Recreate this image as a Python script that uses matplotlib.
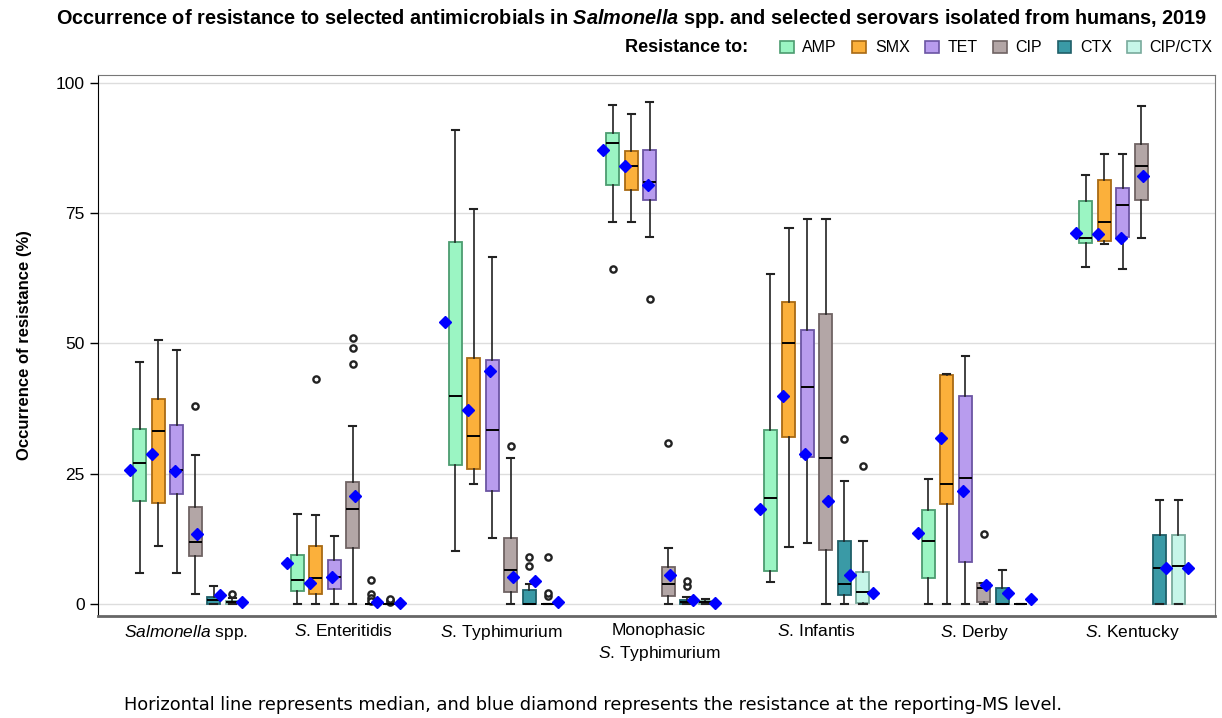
import numpy as np
import matplotlib
matplotlib.use('Agg')
import matplotlib.pyplot as plt
from matplotlib.patches import Patch

plt.rcParams['font.family'] = ['Liberation Sans', 'DejaVu Sans']
plt.rcParams['mathtext.fontset'] = 'custom'
plt.rcParams['mathtext.rm'] = 'Liberation Sans'
plt.rcParams['mathtext.it'] = 'Liberation Sans:italic'
plt.rcParams['mathtext.bf'] = 'Liberation Sans:bold'
plt.rcParams['mathtext.bfit'] = 'Liberation Sans:italic:bold'

groups = [r'$\mathit{Salmonella}$ spp.', r'$\mathit{S}$. Enteritidis', r'$\mathit{S}$. Typhimurium',
          'Monophasic\n' + r'$\mathit{S}$. Typhimurium', r'$\mathit{S}$. Infantis',
          r'$\mathit{S}$. Derby', r'$\mathit{S}$. Kentucky']
drugs = ['AMP', 'SMX', 'TET', 'CIP', 'CTX', 'CIP/CTX']

# (whisker low, q1, median, q3, whisker high) per serovar group
amp = [(6.0, 19.7, 27.1, 33.5, 46.5), (0, 2.5, 4.6, 9.4, 17.3), (10.2, 26.6, 40.0, 69.4, 91.0),
       (73.3, 80.4, 88.4, 90.3, 95.7), (4.3, 6.4, 20.3, 33.3, 63.3), (0, 5.0, 12.0, 18.0, 23.9),
       (64.7, 69.2, 70.3, 77.3, 82.4)]
smx = [(11.2, 19.4, 33.1, 39.4, 50.6), (0, 1.9, 5.0, 11.2, 17.1), (23.0, 25.9, 32.3, 47.2, 75.8),
       (73.3, 79.4, 84.1, 86.9, 94.0), (11.0, 32.1, 50.1, 57.9, 72.2), (0, 19.1, 23.1, 43.9, 44.2),
       (69.0, 69.6, 73.2, 81.4, 86.4)]
tet = [(6.0, 21.2, 25.8, 34.4, 48.7), (0, 2.9, 5.2, 8.5, 13.1), (12.7, 21.6, 33.4, 46.8, 66.6),
       (70.5, 77.5, 81.0, 87.1, 96.4), (11.7, 28.2, 41.7, 52.6, 73.8), (0, 8.1, 24.2, 39.9, 47.5),
       (64.2, 70.5, 76.5, 79.9, 86.4)]
cip = [(1.9, 9.2, 11.9, 18.7, 28.6), (0, 10.8, 18.2, 23.4, 34.2), (0, 2.4, 6.5, 12.6, 28.0),
       (0, 1.6, 3.9, 7.1, 10.7), (0, 10.3, 28.1, 55.6, 73.8), (0, 0.3, 3.0, 4.0, 4.0),
       (70.3, 77.6, 84.1, 88.2, 95.5)]
ctx = [(0, 0, 0.7, 1.4, 3.5), (0, 0, 0, 0, 0), (0, 0, 0, 2.6, 3.8), (0, 0, 0.3, 0.8, 1.3),
       (0, 1.7, 3.8, 12.0, 23.6), (0, 0, 0, 3.1, 6.6), (0, 0, 6.9, 13.2, 20.0)]
cipctx = [(0, 0, 0.3, 0.6, 1.2), (0, 0, 0, 0, 0), (0, 0, 0, 0, 0), (0, 0, 0.3, 0.6, 1.0),
          (0, 0.1, 2.3, 6.1, 12.1), (0, 0, 0, 0, 0), (0, 0, 7.2, 13.2, 20.0)]

# resistance at reporting-MS level (blue diamonds)
amp_ms = [25.8, 7.9, 54.2, 87.1, 18.3, 13.7, 71.1]
smx_ms = [28.8, 4.0, 37.2, 84.0, 39.9, 31.8, 71.0]
tet_ms = [25.6, 5.2, 44.7, 80.4, 28.7, 21.7, 70.3]
cip_ms = [13.4, 20.8, 5.1, 5.5, 19.8, 3.7, 82.1]
ctx_ms = [1.8, 0.3, 4.4, 0.8, 5.6, 2.2, 6.9]
cipctx_ms = [0.3, 0.1, 0.3, 0.2, 2.1, 1.0, 6.9]

# outliers
amp_out = [[], [], [], [64.3], [], [], []]
smx_out = [[], [43.2], [], [], [], [], []]
tet_out = [[], [], [], [58.6], [], [], []]
cip_out = [[37.9], [46.1, 49.2, 51.0], [30.3], [30.9], [], [13.4], []]
ctx_out = [[], [4.6, 1.9, 1.1, 0.6], [7.2, 9.1], [3.5, 4.4], [31.7], [], []]
cipctx_out = [[2.0], [0.4, 0.7, 0.9], [1.6, 2.2, 9.1], [], [26.4], [], []]

fills = ['#9BF5C3', '#FBB03B', '#B89CEE', '#B3A6A6', '#3A9AA6', '#C6F6E9']
edges = ['#4C9C70', '#A86A14', '#6B55A3', '#6F6363', '#1F5F68', '#78AA9C']

box_stats = [amp, smx, tet, cip, ctx, cipctx]
ms_vals = [amp_ms, smx_ms, tet_ms, cip_ms, ctx_ms, cipctx_ms]
outliers = [amp_out, smx_out, tet_out, cip_out, ctx_out, cipctx_out]

fig = plt.figure(figsize=(12.22, 7.18), dpi=100)
ax = fig.add_axes([98/1222, 1-616/718, (1215-98)/1222, (616-75)/718])

x = np.arange(len(groups))
step = 0.1173
bw = 0.0824
dstep = 0.1427

for k, d in enumerate(drugs):
    off = (k - 2.5) * step
    stats = []
    for g in range(len(groups)):
        lo, q1, med, q3, hi = box_stats[k][g]
        stats.append(dict(whislo=lo, q1=q1, med=med, q3=q3, whishi=hi,
                          fliers=outliers[k][g], mean=ms_vals[k][g]))
    ax.bxp(stats, positions=x + off, widths=bw, capwidths=bw * 0.55,
           patch_artist=True, showfliers=True, showmeans=False,
           boxprops=dict(facecolor=fills[k], edgecolor=edges[k], linewidth=1.3),
           medianprops=dict(color='black', linewidth=1.4),
           whiskerprops=dict(color='#222222', linewidth=1.2),
           capprops=dict(color='#222222', linewidth=1.5),
           flierprops=dict(marker='o', markerfacecolor='white', markeredgecolor='#222222',
                           markersize=4.5, markeredgewidth=1.7))
    ax.plot(x + (k - 2.5) * dstep, ms_vals[k], linestyle='none', marker='D',
            color='#0000FF', markersize=6.5, zorder=5)

ax.set_xlim(-0.558, 6.526)
ax.set_ylim(-2.3, 101.5)
ax.set_yticks([0, 25, 50, 75, 100])
ax.set_xticks(x)
ax.set_xticklabels(groups, fontsize=12.5, linespacing=1.45)
ax.tick_params(axis='x', length=0, pad=5)
ax.tick_params(axis='y', labelsize=12.5, length=6, width=1, colors='black')
ax.yaxis.grid(True, color='#DDDDDD', linewidth=1)
ax.set_axisbelow(True)
for s in ['top', 'right']:
    ax.spines[s].set_color('#777777')
ax.spines['bottom'].set_color('#666666')
ax.spines['bottom'].set_linewidth(2)
ax.spines['left'].set_color('black')
ax.set_ylabel('Occurrence of resistance (%)', fontsize=12, fontweight='bold', labelpad=17)

fig.text(632/1222, 1-18/718,
         r'Occurrence of resistance to selected antimicrobials in $\mathbfit{Salmonella}$ spp. and selected serovars isolated from humans, 2019',
         ha='center', va='center', fontsize=14.3, fontweight='bold')

fig.text(748/1222, 1-48/718, 'Resistance to:', ha='right', va='center', fontsize=13, fontweight='bold')
handles = [Patch(facecolor=fills[k], edgecolor=edges[k], linewidth=1.2, label=d) for k, d in enumerate(drugs)]
fig.legend(handles=handles, loc='center left', bbox_to_anchor=(780/1222, 1-48/718), ncol=6,
           frameon=False, fontsize=11.5, handlelength=0.85, handleheight=0.85,
           handletextpad=0.55, columnspacing=0.97, borderpad=0, borderaxespad=0)

fig.text(593/1222, 1-705/718,
         'Horizontal line represents median, and blue diamond represents the resistance at the reporting-MS level.',
         ha='center', va='center', fontsize=12.8, family='DejaVu Sans')

fig.savefig('out.png', dpi=100)
